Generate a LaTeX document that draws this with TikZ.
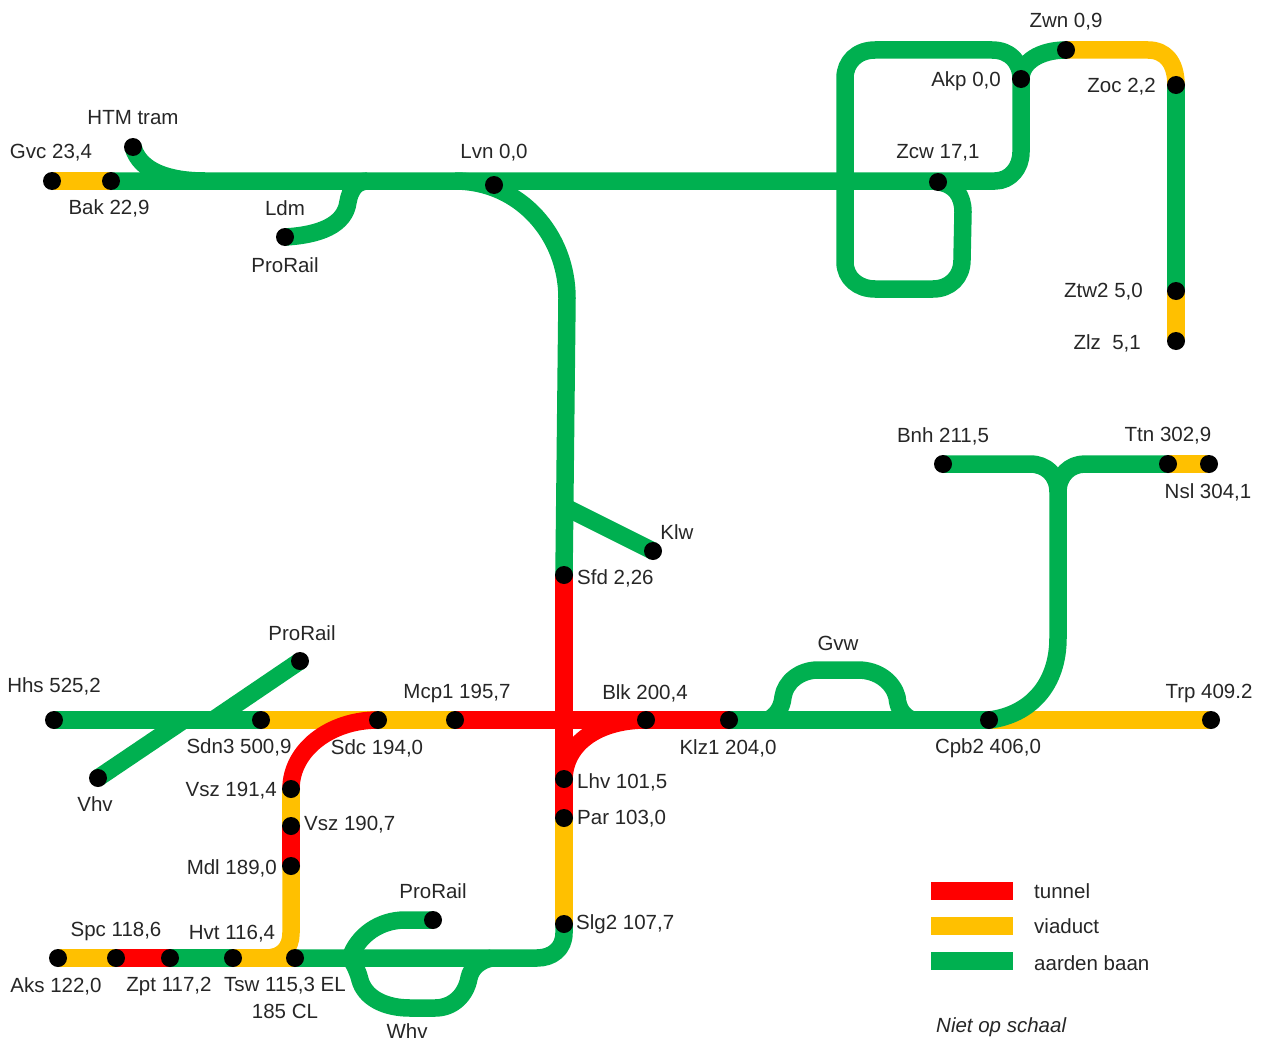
\documentclass[tikz,border=0pt]{standalone}
\usepackage{fontspec}
\setmainfont{Liberation Sans}
\pgfdeclarelayer{rails}
\pgfsetlayers{rails,main}
\definecolor{railgreen}{HTML}{00B050}
\definecolor{railyellow}{HTML}{FFC000}
\definecolor{railred}{HTML}{FF0000}
\tikzset{
  stn/.style={circle,fill=black,draw=none,minimum size=18pt,inner sep=0pt},
  lbl/.style={inner sep=0pt,yshift=-1pt,text=black!85,font=\fontsize{20.5}{24}\selectfont},
  lr/.style={lbl,anchor=east},
  ll/.style={lbl,anchor=west},
  rail/.style={line width=17.5pt,line cap=butt,line join=round},
  grn/.style={rail,draw=railgreen},
  yel/.style={rail,draw=railyellow},
  rd/.style={rail,draw=railred},
  key/.style={minimum width=82pt,minimum height=18pt,inner sep=0pt,draw=none}
}
\begin{document}
\begin{tikzpicture}[x=1pt,y=-1pt]
\useasboundingbox (0,0) rectangle (1261,1041);
% stations
\node[stn] (Gvc) at (52,181) {};
\node[stn] (Bak) at (111,181) {};
\node[stn] (HTM) at (133,147) {};
\node[stn] (PRa) at (285,237) {};
\node[stn] (Lvn) at (494,185) {};
\node[stn] (Zcw) at (938,182) {};
\node[stn] (Akp) at (1021,79) {};
\node[stn] (Zwn) at (1066,50) {};
\node[stn] (Zoc) at (1176,85) {};
\node[stn] (Ztw) at (1176,291) {};
\node[stn] (Zlz) at (1176,341) {};
\node[stn] (Bnh) at (943,464) {};
\node[stn] (Nsl) at (1168,464) {};
\node[stn] (Ttn) at (1209,464) {};
\node[stn] (Klw) at (653,551) {};
\node[stn] (Sfd) at (564,575) {};
\node[stn] (PRb) at (300,661) {};
\node[stn] (Hhs) at (54,720) {};
\node[stn] (Sdn) at (261,720) {};
\node[stn] (Sdc) at (378,720) {};
\node[stn] (Mcp) at (455,720) {};
\node[stn] (Blk) at (646,720) {};
\node[stn] (Klz) at (729,720) {};
\node[stn] (Cpb) at (989,720) {};
\node[stn] (Trp) at (1211,720) {};
\node[stn] (Vhv) at (98,778) {};
\node[stn] (Lhv) at (564,779) {};
\node[stn] (Par) at (564,818) {};
\node[stn] (VszA) at (291,789) {};
\node[stn] (VszB) at (291,826) {};
\node[stn] (Mdl) at (291,866) {};
\node[stn] (PRc) at (433,920) {};
\node[stn] (Slg) at (564,924) {};
\node[stn] (Aks) at (58,958) {};
\node[stn] (Spc) at (116,958) {};
\node[stn] (Zpt) at (170,958) {};
\node[stn] (Hvt) at (233,958) {};
\node[stn] (Tsw) at (295,958) {};
% way points
\coordinate (mainTop) at (205,181);
\coordinate (ldmJoin) at (368,181);
\coordinate (lvnIn) at (455,181);
\coordinate (lvnOut) at (567,298);
\coordinate (klwJoin) at (567,508);
\coordinate (zcwR) at (995,181);
\coordinate (akpD) at (1021,152);
\coordinate (loopL) at (845,78);
\coordinate (loopTL) at (875,50);
\coordinate (loopTR) at (992,50);
\coordinate (loopLL) at (845,262);
\coordinate (loopBL) at (875,289);
\coordinate (loopBR) at (933,289);
\coordinate (loopRB) at (962,260);
\coordinate (loopRT) at (963,212);
\coordinate (zwnL) at (1021,72);
\coordinate (zocC) at (1148,50);
\coordinate (bnhR) at (1030,464);
\coordinate (nslL) at (1085,464);
\coordinate (bJoin) at (1058,492);
\coordinate (cpbUp) at (1058,638);
\coordinate (upA) at (213,720);
\coordinate (loA) at (184,720);
\coordinate (gvwA) at (768,720);
\coordinate (gvwB) at (783,697);
\coordinate (gvwC) at (818,670);
\coordinate (gvwD) at (858,670);
\coordinate (gvwE) at (897,697);
\coordinate (gvwF) at (912,720);
\coordinate (slgD) at (564,933);
\coordinate (slgL) at (537,958);
\coordinate (mdlD) at (291,933);
\coordinate (mdlL) at (266,958);
\coordinate (wA) at (350,958);
\coordinate (wB) at (360,980);
\coordinate (wC) at (410,1008);
\coordinate (wD) at (435,1008);
\coordinate (wE) at (469,978);
\coordinate (wF) at (492,958);
\coordinate (prcL) at (405,920);
\begin{pgfonlayer}{rails}
% upper network
\draw[yel] (Gvc.center) -- (Bak.center);
\draw[grn] (Bak.center) -- (Zcw.center |- Bak.center) -- (zcwR) .. controls (1010,181) and (1021,168) .. (akpD) -- (Akp.center) -- (zwnL);
\draw[grn] (HTM.center) .. controls (140,172) and (170,181) .. (mainTop);
\draw[grn] (PRa.center) .. controls (320,235) and (345,225) .. (348,202) .. controls (350,190) and (356,181) .. (ldmJoin);
\draw[grn] (lvnIn) .. controls (520,181) and (567,235) .. (lvnOut) -- (Sfd.center);
\draw[grn] (Klw.center) -- (klwJoin);
\draw[grn] (Akp.center) .. controls (1021,62) and (1040,50) .. (Zwn.center);
\draw[yel] (Zwn.center) -- (zocC) .. controls (1165,50) and (1176,62) .. (Zoc.center);
\draw[grn] (Zoc.center) -- (Ztw.center);
\draw[yel] (Ztw.center) -- (Zlz.center);
\draw[grn] (Akp.center) .. controls (1021,62) and (1010,50) .. (loopTR) -- (loopTL) .. controls (857,50) and (845,62) .. (loopL) -- (loopLL) .. controls (845,278) and (858,289) .. (loopBL) -- (loopBR) .. controls (950,289) and (962,277) .. (loopRB) -- (loopRT) .. controls (963,196) and (955,184) .. (Zcw.center);
% east branch
\draw[yel] (Cpb.center) -- (Trp.center);
\draw[grn] (Bnh.center) -- (bnhR) .. controls (1046,464) and (1058,475) .. (bJoin);
\draw[yel] (Nsl.center) -- (Ttn.center);
\draw[grn] (Nsl.center) -- (nslL) .. controls (1070,464) and (1058,475) .. (bJoin) -- (cpbUp) .. controls (1058,685) and (1030,715) .. (Cpb.center);
\draw[grn] (Klz.center) -- (Cpb.center);
\draw[grn] (gvwA) .. controls (776,716) and (782,708) .. (gvwB) .. controls (785,682) and (800,670) .. (gvwC) -- (gvwD) .. controls (878,670) and (893,682) .. (gvwE) .. controls (898,710) and (904,716) .. (gvwF);
% west row
\draw[grn] (Hhs.center) -- (Sdn.center);
\draw[grn] (PRb.center) -- (upA);
\draw[grn] (Vhv.center) -- (loA);
\draw[yel] (Sdn.center) -- (Mcp.center);
\draw[rd] (Mcp.center) -- (Klz.center);
\draw[rd] (Sdc.center) .. controls (330,720) and (291,750) .. (VszA.center);
\draw[yel] (VszA.center) -- (VszB.center);
\draw[rd] (VszB.center) -- (Mdl.center);
% bottom row
\draw[yel] (Aks.center) -- (Spc.center);
\draw[rd] (Spc.center) -- (Zpt.center);
\draw[grn] (Zpt.center) -- (Hvt.center);
\draw[yel] (Hvt.center) -- (Tsw.center);
\draw[yel] (Mdl.center) -- (mdlD) .. controls (291,948) and (282,958) .. (mdlL);
\draw[yel] (Par.center) -- (Slg.center);
\draw[grn] (Slg.center) -- (slgD) .. controls (564,949) and (552,958) .. (slgL) -- (Tsw.center);
\draw[grn] (wA) .. controls (355,965) and (358,972) .. (wB) .. controls (365,998) and (385,1008) .. (wC) -- (wD) .. controls (453,1008) and (466,995) .. (wE) .. controls (471,968) and (480,960) .. (wF);
\draw[grn] (PRc.center) -- (prcL) .. controls (380,920) and (358,935) .. (wA);
% central red
\draw[rd] (Sfd.center) -- (Lhv.center) -- (Par.center);
\draw[rd] (Blk.center) .. controls (600,720) and (565,742) .. (Lhv.center);
\end{pgfonlayer}
% labels
\node[lbl] (tZwn) at (1066,21) {Zwn 0,9};
\node[lr] (tAkp) at (1001,80) {Akp 0,0};
\node[lr] (tZoc) at (1156,86) {Zoc 2,2};
\node[lbl] (tZcw) at (938,152) {Zcw 17,1};
\node[lbl] (tHTM) at (133,117) {HTM tram};
\node[lbl] (tGvc) at (51,152) {Gvc 23,4};
\node[lbl] (tBak) at (109,207) {Bak 22,9};
\node[lbl] (tLdm) at (285,207) {Ldm};
\node[lbl] (tPRa) at (285,264) {ProRail};
\node[lbl] (tLvn) at (494,152) {Lvn 0,0};
\node[lr] (tZtw) at (1143,291) {Ztw2 5,0};
\node[lr] (tZlz) at (1141,342) {Zlz\ \ 5,1};
\node[lbl] (tBnh) at (943,435) {Bnh 211,5};
\node[lbl] (tTtn) at (1168,435) {Ttn 302,9};
\node[lbl] (tNsl) at (1208,491) {Nsl 304,1};
\node[lbl] (tKlw) at (677,531) {Klw};
\node[ll] (tSfd) at (577,577) {Sfd 2,26};
\node[lbl] (tGvw) at (838,642) {Gvw};
\node[lbl] (tPRb) at (302,632) {ProRail};
\node[lbl] (tHhs) at (54,685) {Hhs 525,2};
\node[lbl] (tMcp) at (457,692) {Mcp1 195,7};
\node[lbl] (tBlk) at (645,692) {Blk 200,4};
\node[lbl] (tTrp) at (1209,692) {Trp 409.2};
\node[lbl] (tSdn) at (239,746) {Sdn3 500,9};
\node[lbl] (tSdc) at (377,747) {Sdc 194,0};
\node[lbl] (tKlz) at (728,747) {Klz1 204,0};
\node[lbl] (tCpb) at (988,747) {Cpb2 406,0};
\node[lbl] (tVhv) at (95,803) {Vhv};
\node[lr] (tVszA) at (277,790) {Vsz 191,4};
\node[ll] (tVszB) at (304,824) {Vsz 190,7};
\node[ll] (tLhv) at (577,781) {Lhv 101,5};
\node[ll] (tPar) at (577,818) {Par 103,0};
\node[lr] (tMdl) at (277,867) {Mdl 189,0};
\node[lbl] (tPRc) at (433,890) {ProRail};
\node[ll] (tSlg) at (576,923) {Slg2 107,7};
\node[lbl] (tSpc) at (116,930) {Spc 118,6};
\node[lbl] (tHvt) at (232,933) {Hvt 116,4};
\node[lbl] (tAks) at (56,985) {Aks 122,0};
\node[lbl] (tZpt) at (169,985) {Zpt 117,2};
\node[lbl] (tTsw) at (285,985) {Tsw 115,3 EL};
\node[lbl] (tCL) at (285,1010) {185 CL};
\node[lbl] (tWhv) at (407,1030) {Whv};
% legend
\node[key,fill=railred] (kR) at (972,891) {};
\node[key,fill=railyellow] (kY) at (972,926) {};
\node[key,fill=railgreen] (kG) at (972,961) {};
\node[ll] (tR) at (1034,890) {tunnel};
\node[ll] (tY) at (1034,925) {viaduct};
\node[ll] (tG) at (1034,962) {aarden baan};
\node[ll,font=\fontsize{20.5}{24}\selectfont\itshape] (tN) at (936,1026) {Niet op schaal};
\end{tikzpicture}
\end{document}
